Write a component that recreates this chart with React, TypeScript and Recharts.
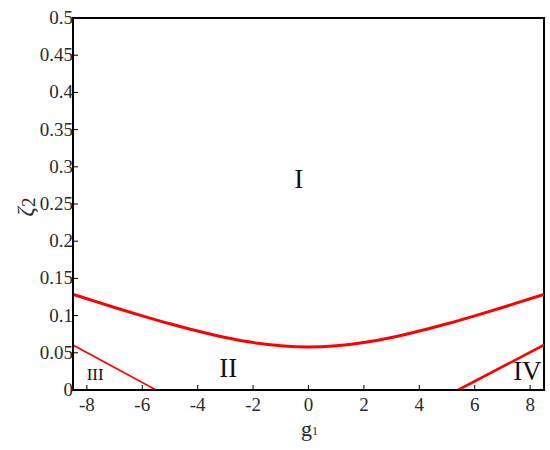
import { LineChart, Line, XAxis, YAxis, ReferenceArea, ReferenceDot } from "recharts";

const gMain = [-8.5, -8, -7, -6, -5, -4, -3, -2, -1, 0, 1, 2, 3, 4, 5, 6, 7, 8, 8.5];
const zetaMain = [0.1286, 0.1227, 0.1109, 0.0997, 0.089, 0.0792, 0.0706, 0.0638, 0.0594, 0.0578, 0.0594, 0.0638, 0.0706, 0.0792, 0.089, 0.0997, 0.1109, 0.1227, 0.1286];
const gLeft = [-8.5, -5.5];
const zetaLeft = [0.0605, 0];
const gRight = [5.4, 8.5];
const zetaRight = [0, 0.0605];
const xTicks = [-8, -6, -4, -2, 0, 2, 4, 6, 8];
const yTicks = [0, 0.05, 0.1, 0.15, 0.2, 0.25, 0.3, 0.35, 0.4, 0.45, 0.5];
const regions = [
  { label: "I", g: -0.35, zeta: 0.284, size: 27 },
  { label: "II", g: -2.9, zeta: 0.03, size: 27 },
  { label: "III", g: -7.7, zeta: 0.0215, size: 17 },
  { label: "IV", g: 7.9, zeta: 0.025, size: 27 },
];

const FONT = "'Liberation Serif', 'Times New Roman', serif";
const MARGIN = 5;
const serif = { fontFamily: FONT };

const mainData = gMain.map((g, i) => ({ g, zeta: zetaMain[i] }));
const leftData = gLeft.map((g, i) => ({ g, zeta: zetaLeft[i] }));
const rightData = gRight.map((g, i) => ({ g, zeta: zetaRight[i] }));

const XTick = ({ x, y, payload }: any) => (
  <g>
    <line x1={x} x2={x} y1={y - MARGIN} y2={y - MARGIN - 5} stroke="#000" strokeWidth={1} />
    <text x={x} y={y + 16} textAnchor="middle" fontSize={19} fill="#2a2a2a" style={serif}>
      {payload.value}
    </text>
  </g>
);

const YTick = ({ x, y, payload }: any) => (
  <g>
    <line x1={x + MARGIN} x2={x + MARGIN + 5} y1={y} y2={y} stroke="#000" strokeWidth={1} />
    <text x={x + 5} y={y + 6} textAnchor="end" fontSize={19} fill="#2a2a2a" style={serif}>
      {String(payload.value)}
    </text>
  </g>
);

const App = () => (
  <div style={{ position: "absolute", left: 0, top: 0, background: "#fff", fontFamily: FONT }}>
    <LineChart width={550} height={450} margin={{ top: 18, right: 6, left: 0, bottom: 0 }}>
      <XAxis
        dataKey="g"
        type="number"
        domain={[-8.5, 8.5]}
        ticks={xTicks}
        tickSize={0}
        tickMargin={MARGIN}
        tick={<XTick />}
        axisLine={{ stroke: "#000", strokeWidth: 2 }}
        height={60}
        allowDataOverflow
        label={({ viewBox }: any) => (
          <text x={viewBox.x + viewBox.width / 2 + 1} y={viewBox.y + 46} textAnchor="middle" style={serif} fill="#2a2a2a">
            <tspan fontSize={22}>g</tspan>
            <tspan fontSize={12} dy={-1}>1</tspan>
          </text>
        )}
      />
      <YAxis
        dataKey="zeta"
        type="number"
        domain={[0, 0.5]}
        ticks={yTicks}
        tickSize={0}
        tickMargin={MARGIN}
        tick={<YTick />}
        axisLine={{ stroke: "#000", strokeWidth: 2 }}
        width={73}
        allowDataOverflow
        label={({ viewBox }: any) => (
          <text
            x={33}
            y={viewBox.y + viewBox.height / 2 + 3}
            textAnchor="middle"
            style={serif}
            fill="#2a2a2a"
            transform={`rotate(-90 33 ${viewBox.y + viewBox.height / 2 + 3})`}
          >
            <tspan fontSize={23} fontStyle="italic">ζ</tspan>
            <tspan fontSize={19} dy={2}>2</tspan>
          </text>
        )}
      />
      <ReferenceArea x1={-8.5} x2={8.5} y1={0} y2={0.5} fill="none" stroke="#000" strokeWidth={2} ifOverflow="visible" />
      <Line data={mainData} dataKey="zeta" type="monotone" stroke="#ff0000" strokeWidth={3} dot={false} isAnimationActive={false} />
      <Line data={leftData} dataKey="zeta" type="linear" stroke="#ff0000" strokeWidth={1.6} dot={false} isAnimationActive={false} />
      <Line data={rightData} dataKey="zeta" type="linear" stroke="#ff0000" strokeWidth={2.6} dot={false} isAnimationActive={false} />
      {regions.map((r) => (
        <ReferenceDot
          key={r.label}
          x={r.g}
          y={r.zeta}
          r={0}
          stroke="none"
          fill="none"
          label={({ viewBox }: any) => (
            <text
              x={viewBox.cx ?? viewBox.x}
              y={(viewBox.cy ?? viewBox.y) + r.size * 0.33}
              textAnchor="middle"
              fontSize={r.size}
              style={serif}
              fill="#111"
            >
              {r.label}
            </text>
          )}
        />
      ))}
    </LineChart>
  </div>
);

export default App;
